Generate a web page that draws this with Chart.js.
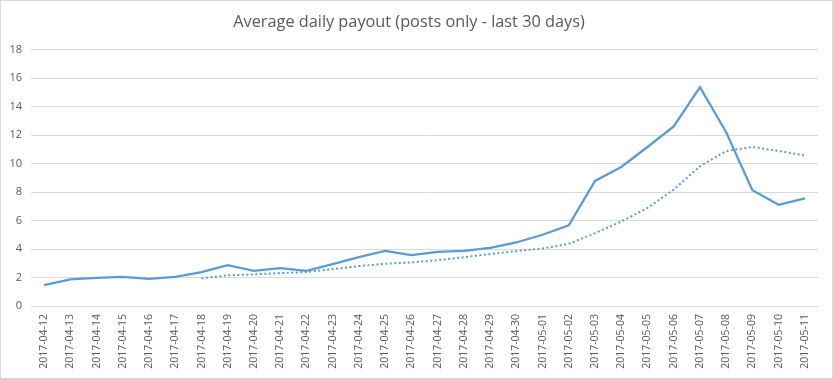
<!DOCTYPE html>
<html>
<head>
<meta charset="utf-8">
<script src="https://cdn.jsdelivr.net/npm/chart.js@4.4.1/dist/chart.umd.min.js"></script>
<style>
  html, body { margin: 0; padding: 0; background: #fff; }
  #wrap { width: 833px; height: 379px; }
</style>
</head>
<body>
<div id="wrap"><canvas id="payout" width="833" height="379"></canvas></div>
<script>
// ---- data ----
const days = [
  '2017-04-12', '2017-04-13', '2017-04-14', '2017-04-15', '2017-04-16', '2017-04-17',
  '2017-04-18', '2017-04-19', '2017-04-20', '2017-04-21', '2017-04-22', '2017-04-23',
  '2017-04-24', '2017-04-25', '2017-04-26', '2017-04-27', '2017-04-28', '2017-04-29',
  '2017-04-30', '2017-05-01', '2017-05-02', '2017-05-03', '2017-05-04', '2017-05-05',
  '2017-05-06', '2017-05-07', '2017-05-08', '2017-05-09', '2017-05-10', '2017-05-11'
];

const dailyPayout = [
  1.47, 1.87, 1.98, 2.05, 1.91, 2.05,
  2.38, 2.87, 2.47, 2.66, 2.47, 2.94,
  3.43, 3.87, 3.57, 3.80, 3.87, 4.08,
  4.46, 5.00, 5.67, 8.78, 9.76, 11.16,
  12.60, 15.36, 12.20, 8.12, 7.10, 7.56
];

// 7-day moving average (dotted), first value on 04-18
const movingAvg = [
  null, null, null, null, null, null,
  1.94, 2.15, 2.22, 2.31, 2.38, 2.59,
  2.80, 2.96, 3.06, 3.22, 3.43, 3.64,
  3.85, 4.04, 4.36, 5.11, 5.93, 6.88,
  8.17, 9.80, 10.88, 11.16, 10.88, 10.57
];

const yTicks = [0, 2, 4, 6, 8, 10, 12, 14, 16, 18];

const BLUE = '#5b9bd5';
const TEXT = '#595959';
const GRID = '#d9d9d9';

// thin grey frame round the whole chart, like the office export
const framePlugin = {
  id: 'frame',
  afterDraw(chart) {
    const ctx = chart.ctx;
    ctx.save();
    ctx.strokeStyle = GRID;
    ctx.lineWidth = 1;
    ctx.strokeRect(0.5, 0.5, chart.width - 1, chart.height - 1);
    ctx.restore();
  }
};

new Chart(document.getElementById('payout'), {
  type: 'line',
  data: {
    labels: days,
    datasets: [
      {
        label: 'Average daily payout',
        data: dailyPayout,
        borderColor: BLUE,
        borderWidth: 2.25,
        pointRadius: 0,
        tension: 0,
        fill: false
      },
      {
        label: '7-day average',
        data: movingAvg,
        borderColor: BLUE,
        borderWidth: 2,
        borderDash: [2, 2.5],
        pointRadius: 0,
        tension: 0,
        fill: false
      }
    ]
  },
  options: {
    responsive: false,
    animation: false,
    layout: { padding: { left: 0, right: 15, top: 0, bottom: 0 } },
    plugins: {
      legend: { display: false },
      tooltip: { enabled: false },
      title: {
        display: true,
        text: 'Average daily payout (posts only - last 30 days)',
        color: TEXT,
        font: { family: "'Open Sans', sans-serif", size: 16.3, weight: 'normal' },
        padding: { top: 13, bottom: 17 }
      }
    },
    scales: {
      x: {
        offset: true,
        grid: { display: false, drawTicks: false },
        border: { display: false },
        ticks: {
          color: TEXT,
          font: { family: "'Open Sans', sans-serif", size: 10.5 },
          autoSkip: false,
          minRotation: 90,
          maxRotation: 90,
          padding: 8
        },
        afterFit(scale) { scale.height = 73; }
      },
      y: {
        min: 0,
        max: 18,
        afterBuildTicks(scale) { scale.ticks = yTicks.map(v => ({ value: v })); },
        grid: { color: GRID, lineWidth: 1, drawTicks: false },
        border: { display: false },
        ticks: {
          color: TEXT,
          font: { family: "'Open Sans', sans-serif", size: 11 },
          padding: 9
        },
        afterFit(scale) { scale.width = 31; }
      }
    }
  },
  plugins: [framePlugin]
});
</script>
</body>
</html>
